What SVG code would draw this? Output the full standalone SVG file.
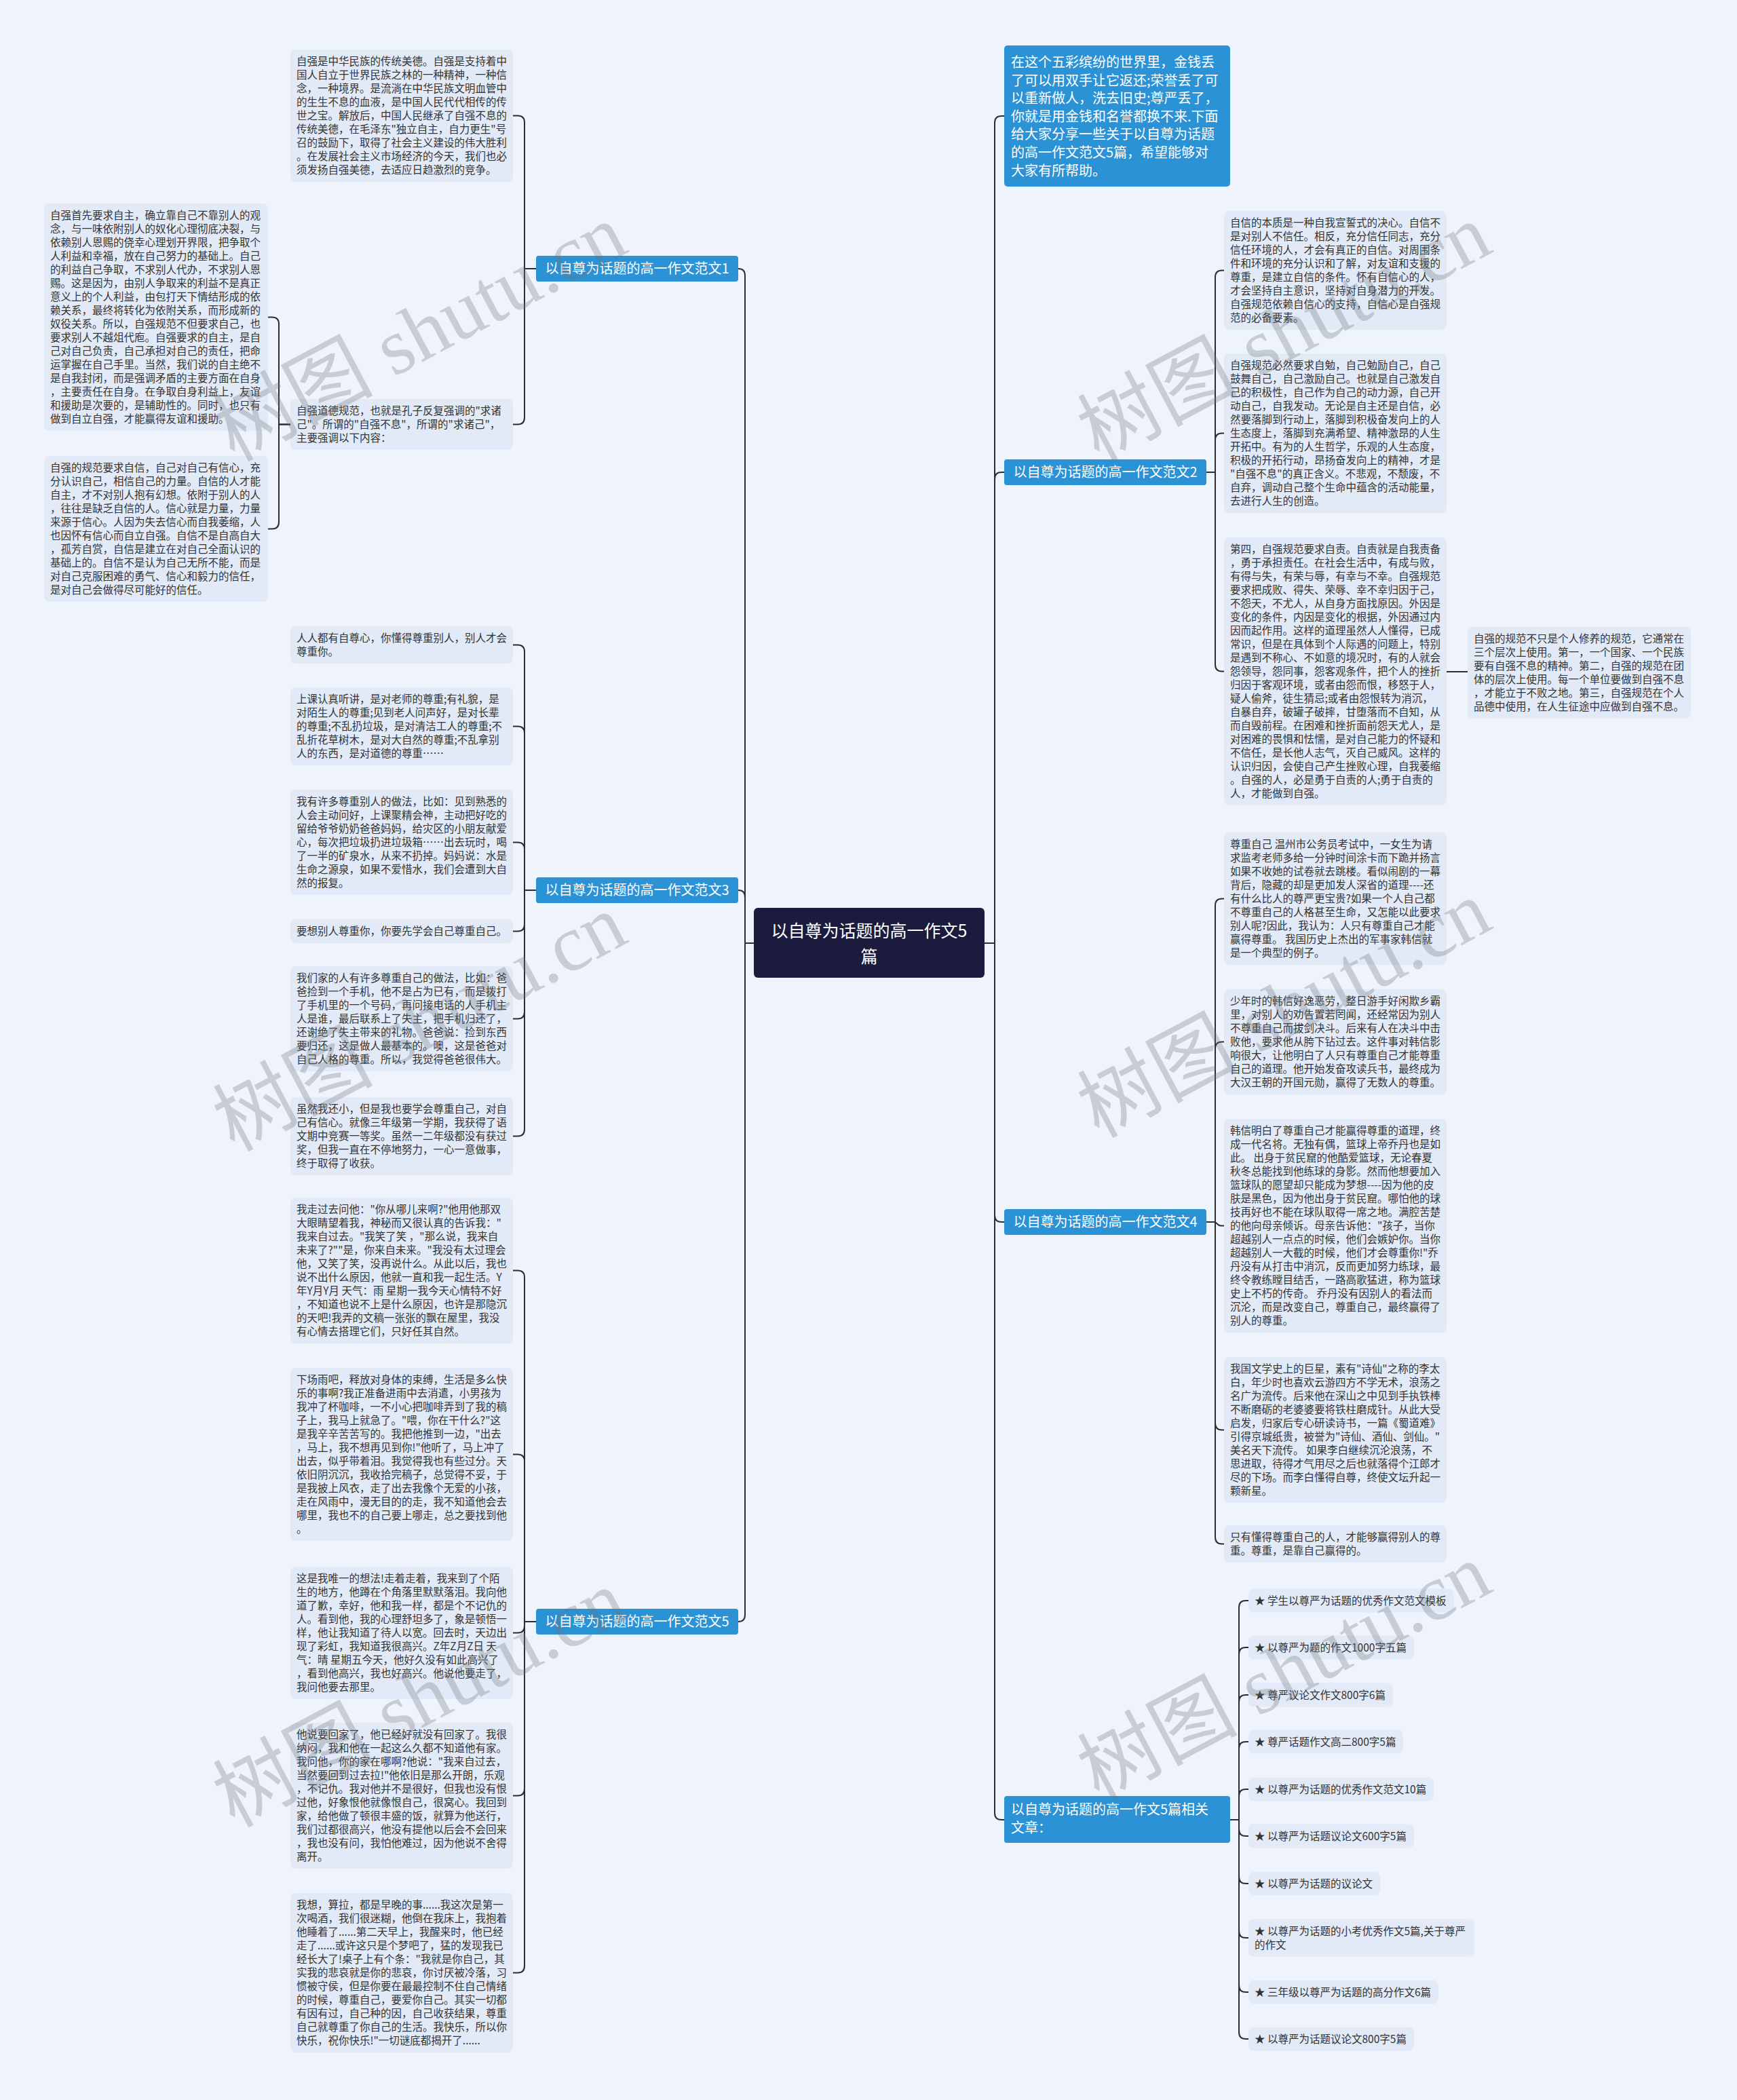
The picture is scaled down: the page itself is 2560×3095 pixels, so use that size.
<svg xmlns="http://www.w3.org/2000/svg" width="2560" height="3095" viewBox="0 0 2560 3095">
<style>
.leaf{fill:#e2eaf8}
.lt{font-family:"Noto Sans CJK SC","Noto Sans",sans-serif;font-size:15.5px;fill:#333}
.sec{fill:#2a92d5}
.st{font-family:"Noto Sans CJK SC","Noto Sans",sans-serif;font-size:20px;fill:#fff}
.ct{font-family:"Noto Sans CJK SC","Noto Sans",sans-serif;font-size:25px;fill:#fff}
.conn path{fill:none;stroke:#2d2d2d;stroke-width:2}
.wm{font-family:"Liberation Serif","Noto Sans CJK SC",serif;font-size:118px;fill:#6e747e;opacity:0.3}
</style>
<rect width="2560" height="3095" fill="#eef3fc"/>
<g id="connectors" class="conn">
<path d="M1111 1390 H1098 V406 Q1098 396 1088 396"/>
<path d="M1111 1390 H1098 V1322 Q1098 1312 1088 1312"/>
<path d="M1111 1390 H1098 V2380 Q1098 2390 1088 2390"/>
<path d="M1451 1390 H1466 V181 Q1466 171 1476 171 H1480"/>
<path d="M1451 1390 H1466 V706 Q1466 696 1476 696 H1480"/>
<path d="M1451 1390 H1466 V1791 Q1466 1801 1476 1801 H1480"/>
<path d="M1451 1390 H1466 V2672 Q1466 2682 1476 2682 H1480"/>
<path d="M790 396 H773 V180.5 Q773 170.5 763 170.5 H756"/>
<path d="M790 396 H773 V615.5 Q773 625.5 763 625.5 H756"/>
<path d="M428 625.5 H411 V477.5 Q411 467.5 401 467.5 H395"/>
<path d="M428 625.5 H411 V769.5 Q411 779.5 401 779.5 H395"/>
<path d="M790 1312 H773 V960.5 Q773 950.5 763 950.5 H756"/>
<path d="M790 1312 H773 V1080.5 Q773 1070.5 763 1070.5 H756"/>
<path d="M790 1312 H773 V1251.5 Q773 1241.5 763 1241.5 H756"/>
<path d="M790 1312 H773 V1362.5 Q773 1372.5 763 1372.5 H756"/>
<path d="M790 1312 H773 V1491.5 Q773 1501.5 763 1501.5 H756"/>
<path d="M790 1312 H773 V1664.5 Q773 1674.5 763 1674.5 H756"/>
<path d="M790 2390 H773 V1882.5 Q773 1872.5 763 1872.5 H756"/>
<path d="M790 2390 H773 V2153.5 Q773 2143.5 763 2143.5 H756"/>
<path d="M790 2390 H773 V2396.5 Q773 2406.5 763 2406.5 H756"/>
<path d="M790 2390 H773 V2636.5 Q773 2646.5 763 2646.5 H756"/>
<path d="M790 2390 H773 V2897.5 Q773 2907.5 763 2907.5 H756"/>
<path d="M1778 696 H1791 V408.5 Q1791 398.5 1801 398.5 H1804"/>
<path d="M1778 696 H1791 V648.5 Q1791 638.5 1801 638.5 H1804"/>
<path d="M1778 696 H1791 V979.5 Q1791 989.5 1801 989.5 H1804"/>
<path d="M2132 990 H2163"/>
<path d="M1778 1801 H1791 V1334.5 Q1791 1324.5 1801 1324.5 H1804"/>
<path d="M1778 1801 H1791 V1545.5 Q1791 1535.5 1801 1535.5 H1804"/>
<path d="M1778 1801 H1789 C1794 1801 1794 1806.5 1799 1806.5 H1804"/>
<path d="M1778 1801 H1791 V2097.5 Q1791 2107.5 1801 2107.5 H1804"/>
<path d="M1778 1801 H1791 V2265.5 Q1791 2275.5 1801 2275.5 H1804"/>
<path d="M1813 2682 H1826 V2369 Q1826 2359 1836 2359 H1840"/>
<path d="M1813 2682 H1826 V2438 Q1826 2428 1836 2428 H1840"/>
<path d="M1813 2682 H1826 V2508 Q1826 2498 1836 2498 H1840"/>
<path d="M1813 2682 H1826 V2577 Q1826 2567 1836 2567 H1840"/>
<path d="M1813 2682 H1826 V2647 Q1826 2637 1836 2637 H1840"/>
<path d="M1813 2682 H1826 V2696 Q1826 2706 1836 2706 H1840"/>
<path d="M1813 2682 H1826 V2766 Q1826 2776 1836 2776 H1840"/>
<path d="M1813 2682 H1826 V2846 Q1826 2856 1836 2856 H1840"/>
<path d="M1813 2682 H1826 V2926 Q1826 2936 1836 2936 H1840"/>
<path d="M1813 2682 H1826 V2995 Q1826 3005 1836 3005 H1840"/>
</g>
<g id="central">
<rect x="1111" y="1338" width="340" height="103" rx="6" fill="#1b1b3d"/>
<text class="ct" text-anchor="middle"><tspan x="1281" y="1381">以自尊为话题的高一作文5</tspan><tspan x="1281" y="1419">篇</tspan></text>
</g>
<g id="intro">
<rect x="1480" y="67" width="333" height="208" rx="5" class="sec"/>
<text class="st"><tspan x="1490" y="99">在这个五彩缤纷的世界里，金钱丢</tspan><tspan x="1490" dy="26.6">了可以用双手让它返还;荣誉丢了可</tspan><tspan x="1490" dy="26.6">以重新做人，洗去旧史;尊严丢了，</tspan><tspan x="1490" dy="26.6">你就是用金钱和名誉都换不来.下面</tspan><tspan x="1490" dy="26.6">给大家分享一些关于以自尊为话题</tspan><tspan x="1490" dy="26.6">的高一作文范文5篇，希望能够对</tspan><tspan x="1490" dy="26.6">大家有所帮助。</tspan></text>
</g>
<g id="sec1">
<rect x="790" y="377" width="298" height="38" rx="4" class="sec"/>
<text class="st" x="939" y="403" text-anchor="middle">以自尊为话题的高一作文范文1</text>
</g>
<g id="sec2">
<rect x="1480" y="677" width="298" height="38" rx="4" class="sec"/>
<text class="st" x="1629" y="703" text-anchor="middle">以自尊为话题的高一作文范文2</text>
</g>
<g id="sec3">
<rect x="790" y="1293" width="298" height="38" rx="4" class="sec"/>
<text class="st" x="939" y="1319" text-anchor="middle">以自尊为话题的高一作文范文3</text>
</g>
<g id="sec4">
<rect x="1480" y="1782" width="298" height="38" rx="4" class="sec"/>
<text class="st" x="1629" y="1808" text-anchor="middle">以自尊为话题的高一作文范文4</text>
</g>
<g id="sec5">
<rect x="790" y="2371" width="298" height="38" rx="4" class="sec"/>
<text class="st" x="939" y="2397" text-anchor="middle">以自尊为话题的高一作文范文5</text>
</g>
<g id="related">
<rect x="1480" y="2647" width="333" height="69" rx="4" class="sec"/>
<text class="st"><tspan x="1490" y="2674">以自尊为话题的高一作文5篇相关</tspan><tspan x="1490" dy="27">文章：</tspan></text>
</g>
<g id="a1">
<rect x="428" y="73" width="328" height="195" rx="8" class="leaf"/>
<text class="lt"><tspan x="437" y="96">自强是中华民族的传统美德。自强是支持着中</tspan><tspan x="437" dy="20">国人自立于世界民族之林的一种精神，一种信</tspan><tspan x="437" dy="20">念，一种境界。是流淌在中华民族文明血管中</tspan><tspan x="437" dy="20">的生生不息的血液，是中国人民代代相传的传</tspan><tspan x="437" dy="20">世之宝。解放后，中国人民继承了自强不息的</tspan><tspan x="437" dy="20">传统美德，在毛泽东"独立自主，自力更生"号</tspan><tspan x="437" dy="20">召的鼓励下，取得了社会主义建设的伟大胜利</tspan><tspan x="437" dy="20">。在发展社会主义市场经济的今天，我们也必</tspan><tspan x="437" dy="20">须发扬自强美德，去适应日趋激烈的竞争。</tspan></text>
</g>
<g id="a2">
<rect x="428" y="588" width="328" height="75" rx="8" class="leaf"/>
<text class="lt"><tspan x="437" y="611">自强道德规范，也就是孔子反复强调的"求诸</tspan><tspan x="437" dy="20">己"。所谓的"自强不息"，所谓的"求诸己"，</tspan><tspan x="437" dy="20">主要强调以下内容：</tspan></text>
</g>
<g id="b1">
<rect x="65" y="300" width="330" height="335" rx="8" class="leaf"/>
<text class="lt"><tspan x="74" y="323">自强首先要求自主，确立靠自己不靠别人的观</tspan><tspan x="74" dy="20">念，与一味依附别人的奴化心理彻底决裂，与</tspan><tspan x="74" dy="20">依赖别人恩赐的侥幸心理划开界限，把争取个</tspan><tspan x="74" dy="20">人利益和幸福，放在自己努力的基础上。自己</tspan><tspan x="74" dy="20">的利益自己争取，不求别人代办，不求别人恩</tspan><tspan x="74" dy="20">赐。这是因为，由别人争取来的利益不是真正</tspan><tspan x="74" dy="20">意义上的个人利益，由包打天下情结形成的依</tspan><tspan x="74" dy="20">赖关系，最终将转化为依附关系，而形成新的</tspan><tspan x="74" dy="20">奴役关系。所以，自强规范不但要求自己，也</tspan><tspan x="74" dy="20">要求别人不越俎代庖。自强要求的自主，是自</tspan><tspan x="74" dy="20">己对自己负责，自己承担对自己的责任，把命</tspan><tspan x="74" dy="20">运掌握在自己手里。当然，我们说的自主绝不</tspan><tspan x="74" dy="20">是自我封闭，而是强调矛盾的主要方面在自身</tspan><tspan x="74" dy="20">，主要责任在自身。在争取自身利益上，友谊</tspan><tspan x="74" dy="20">和援助是次要的，是辅助性的。同时，也只有</tspan><tspan x="74" dy="20">做到自立自强，才能赢得友谊和援助。</tspan></text>
</g>
<g id="b2">
<rect x="65" y="672" width="330" height="215" rx="8" class="leaf"/>
<text class="lt"><tspan x="74" y="695">自强的规范要求自信，自己对自己有信心，充</tspan><tspan x="74" dy="20">分认识自己，相信自己的力量。自信的人才能</tspan><tspan x="74" dy="20">自主，才不对别人抱有幻想。依附于别人的人</tspan><tspan x="74" dy="20">，往往是缺乏自信的人。信心就是力量，力量</tspan><tspan x="74" dy="20">来源于信心。人因为失去信心而自我萎缩，人</tspan><tspan x="74" dy="20">也因怀有信心而自立自强。自信不是自高自大</tspan><tspan x="74" dy="20">，孤芳自赏，自信是建立在对自己全面认识的</tspan><tspan x="74" dy="20">基础上的。自信不是认为自己无所不能，而是</tspan><tspan x="74" dy="20">对自己克服困难的勇气、信心和毅力的信任，</tspan><tspan x="74" dy="20">是对自己会做得尽可能好的信任。</tspan></text>
</g>
<g id="c1">
<rect x="428" y="923" width="328" height="55" rx="8" class="leaf"/>
<text class="lt"><tspan x="437" y="946">人人都有自尊心，你懂得尊重别人，别人才会</tspan><tspan x="437" dy="20">尊重你。</tspan></text>
</g>
<g id="c2">
<rect x="428" y="1013" width="328" height="115" rx="8" class="leaf"/>
<text class="lt"><tspan x="437" y="1036">上课认真听讲，是对老师的尊重;有礼貌，是</tspan><tspan x="437" dy="20">对陌生人的尊重;见到老人问声好，是对长辈</tspan><tspan x="437" dy="20">的尊重;不乱扔垃圾，是对清洁工人的尊重;不</tspan><tspan x="437" dy="20">乱折花草树木，是对大自然的尊重;不乱拿别</tspan><tspan x="437" dy="20">人的东西，是对道德的尊重……</tspan></text>
</g>
<g id="c3">
<rect x="428" y="1164" width="328" height="155" rx="8" class="leaf"/>
<text class="lt"><tspan x="437" y="1187">我有许多尊重别人的做法，比如：见到熟悉的</tspan><tspan x="437" dy="20">人会主动问好，上课聚精会神，主动把好吃的</tspan><tspan x="437" dy="20">留给爷爷奶奶爸爸妈妈，给灾区的小朋友献爱</tspan><tspan x="437" dy="20">心，每次把垃圾扔进垃圾箱……出去玩时，喝</tspan><tspan x="437" dy="20">了一半的矿泉水，从来不扔掉。妈妈说：水是</tspan><tspan x="437" dy="20">生命之源泉，如果不爱惜水，我们会遭到大自</tspan><tspan x="437" dy="20">然的报复。</tspan></text>
</g>
<g id="c4">
<rect x="428" y="1355" width="328" height="35" rx="8" class="leaf"/>
<text class="lt" x="437" y="1378">要想别人尊重你，你要先学会自己尊重自己。</text>
</g>
<g id="c5">
<rect x="428" y="1424" width="328" height="155" rx="8" class="leaf"/>
<text class="lt"><tspan x="437" y="1447">我们家的人有许多尊重自己的做法，比如：爸</tspan><tspan x="437" dy="20">爸捡到一个手机，他不是占为已有，而是拨打</tspan><tspan x="437" dy="20">了手机里的一个号码，再问接电话的人手机主</tspan><tspan x="437" dy="20">人是谁，最后联系上了失主，把手机归还了，</tspan><tspan x="437" dy="20">还谢绝了失主带来的礼物。爸爸说：捡到东西</tspan><tspan x="437" dy="20">要归还，这是做人最基本的。噢，这是爸爸对</tspan><tspan x="437" dy="20">自己人格的尊重。所以，我觉得爸爸很伟大。</tspan></text>
</g>
<g id="c6">
<rect x="428" y="1617" width="328" height="115" rx="8" class="leaf"/>
<text class="lt"><tspan x="437" y="1640">虽然我还小，但是我也要学会尊重自己，对自</tspan><tspan x="437" dy="20">己有信心。就像三年级第一学期，我获得了语</tspan><tspan x="437" dy="20">文期中竞赛一等奖。虽然一二年级都没有获过</tspan><tspan x="437" dy="20">奖，但我一直在不停地努力，一心一意做事，</tspan><tspan x="437" dy="20">终于取得了收获。</tspan></text>
</g>
<g id="d1">
<rect x="428" y="1765" width="328" height="215" rx="8" class="leaf"/>
<text class="lt"><tspan x="437" y="1788">我走过去问他："你从哪儿来啊?"他用他那双</tspan><tspan x="437" dy="20">大眼睛望着我，神秘而又很认真的告诉我："</tspan><tspan x="437" dy="20">我来自过去。"我笑了笑 ，"那么说，我来自</tspan><tspan x="437" dy="20">未来了?""是，你来自未来。"我没有太过理会</tspan><tspan x="437" dy="20">他，又笑了笑，没再说什么。从此以后，我也</tspan><tspan x="437" dy="20">说不出什么原因，他就一直和我一起生活。Y</tspan><tspan x="437" dy="20">年Y月Y月 天气：雨 星期一我今天心情特不好</tspan><tspan x="437" dy="20">，不知道也说不上是什么原因，也许是那隐沉</tspan><tspan x="437" dy="20">的天吧!我弄的文稿一张张的飘在屋里，我没</tspan><tspan x="437" dy="20">有心情去搭理它们，只好任其自然。</tspan></text>
</g>
<g id="d2">
<rect x="428" y="2016" width="328" height="255" rx="8" class="leaf"/>
<text class="lt"><tspan x="437" y="2039">下场雨吧，释放对身体的束缚，生活是多么快</tspan><tspan x="437" dy="20">乐的事啊?我正准备进雨中去消遣，小男孩为</tspan><tspan x="437" dy="20">我冲了杯咖啡，一不小心把咖啡弄到了我的稿</tspan><tspan x="437" dy="20">子上，我马上就急了。"喂，你在干什么?"这</tspan><tspan x="437" dy="20">是我辛辛苦苦写的。我把他推到一边，"出去</tspan><tspan x="437" dy="20">，马上，我不想再见到你!"他听了，马上冲了</tspan><tspan x="437" dy="20">出去，似乎带着泪。我觉得我也有些过分。天</tspan><tspan x="437" dy="20">依旧阴沉沉，我收拾完稿子，总觉得不妥，于</tspan><tspan x="437" dy="20">是我披上风衣，走了出去我像个无爱的小孩，</tspan><tspan x="437" dy="20">走在风雨中，漫无目的的走，我不知道他会去</tspan><tspan x="437" dy="20">哪里，我也不的自己要上哪走，总之要找到他</tspan><tspan x="437" dy="20">。</tspan></text>
</g>
<g id="d3">
<rect x="428" y="2309" width="328" height="195" rx="8" class="leaf"/>
<text class="lt"><tspan x="437" y="2332">这是我唯一的想法!走着走着，我来到了个陌</tspan><tspan x="437" dy="20">生的地方，他蹲在个角落里默默落泪。我向他</tspan><tspan x="437" dy="20">道了歉，幸好，他和我一样，都是个不记仇的</tspan><tspan x="437" dy="20">人。看到他，我的心理舒坦多了，象是顿悟一</tspan><tspan x="437" dy="20">样，他让我知道了待人以宽。回去时，天边出</tspan><tspan x="437" dy="20">现了彩虹，我知道我很高兴。Z年Z月Z日 天</tspan><tspan x="437" dy="20">气：晴 星期五今天，他好久没有如此高兴了</tspan><tspan x="437" dy="20">，看到他高兴，我也好高兴。他说他要走了，</tspan><tspan x="437" dy="20">我问他要去那里。</tspan></text>
</g>
<g id="d4">
<rect x="428" y="2539" width="328" height="215" rx="8" class="leaf"/>
<text class="lt"><tspan x="437" y="2562">他说要回家了，他已经好就没有回家了。我很</tspan><tspan x="437" dy="20">纳闷，我和他在一起这么久都不知道他有家。</tspan><tspan x="437" dy="20">我问他，你的家在哪啊?他说："我来自过去，</tspan><tspan x="437" dy="20">当然要回到过去拉!"他依旧是那么开朗，乐观</tspan><tspan x="437" dy="20">，不记仇。我对他并不是很好，但我也没有恨</tspan><tspan x="437" dy="20">过他，好象恨他就像恨自己，很窝心。我回到</tspan><tspan x="437" dy="20">家，给他做了顿很丰盛的饭，就算为他送行，</tspan><tspan x="437" dy="20">我们过都很高兴，他没有提他以后会不会回来</tspan><tspan x="437" dy="20">，我也没有问，我怕他难过，因为他说不舍得</tspan><tspan x="437" dy="20">离开。</tspan></text>
</g>
<g id="d5">
<rect x="428" y="2790" width="328" height="235" rx="8" class="leaf"/>
<text class="lt"><tspan x="437" y="2813">我想，算拉，都是早晚的事......我这次是第一</tspan><tspan x="437" dy="20">次喝酒，我们很迷糊，他倒在我床上，我抱着</tspan><tspan x="437" dy="20">他睡着了......第二天早上，我醒来时，他已经</tspan><tspan x="437" dy="20">走了......或许这只是个梦吧了，猛的发现我已</tspan><tspan x="437" dy="20">经长大了!桌子上有个条："我就是你自己，其</tspan><tspan x="437" dy="20">实我的悲哀就是你的悲哀，你讨厌被冷落，习</tspan><tspan x="437" dy="20">惯被守侯，但是你要在最最控制不住自己情绪</tspan><tspan x="437" dy="20">的时候，尊重自己，要爱你自己。其实一切都</tspan><tspan x="437" dy="20">有因有过，自己种的因，自己收获结果，尊重</tspan><tspan x="437" dy="20">自己就尊重了你自己的生活。我快乐，所以你</tspan><tspan x="437" dy="20">快乐，祝你快乐!"一切谜底都揭开了......</tspan></text>
</g>
<g id="e1">
<rect x="1804" y="311" width="328" height="175" rx="8" class="leaf"/>
<text class="lt"><tspan x="1813" y="334">自信的本质是一种自我宣誓式的决心。自信不</tspan><tspan x="1813" dy="20">是对别人不信任。相反，充分信任同志，充分</tspan><tspan x="1813" dy="20">信任环境的人，才会有真正的自信。对周围条</tspan><tspan x="1813" dy="20">件和环境的充分认识和了解，对友谊和支援的</tspan><tspan x="1813" dy="20">尊重，是建立自信的条件。怀有自信心的人，</tspan><tspan x="1813" dy="20">才会坚持自主意识，坚持对自身潜力的开发。</tspan><tspan x="1813" dy="20">自强规范依赖自信心的支持，自信心是自强规</tspan><tspan x="1813" dy="20">范的必备要素。</tspan></text>
</g>
<g id="e2">
<rect x="1804" y="521" width="328" height="235" rx="8" class="leaf"/>
<text class="lt"><tspan x="1813" y="544">自强规范必然要求自勉，自己勉励自己，自己</tspan><tspan x="1813" dy="20">鼓舞自己，自己激励自己。也就是自己激发自</tspan><tspan x="1813" dy="20">己的积极性，自己作为自己的动力源，自己开</tspan><tspan x="1813" dy="20">动自己，自我发动。无论是自主还是自信，必</tspan><tspan x="1813" dy="20">然要落脚到行动上，落脚到积极奋发向上的人</tspan><tspan x="1813" dy="20">生态度上，落脚到充满希望、精神激昂的人生</tspan><tspan x="1813" dy="20">开拓中。有为的人生哲学，乐观的人生态度，</tspan><tspan x="1813" dy="20">积极的开拓行动，昂扬奋发向上的精神，才是</tspan><tspan x="1813" dy="20">"自强不息"的真正含义。不悲观，不颓废，不</tspan><tspan x="1813" dy="20">自弃，调动自己整个生命中蕴含的活动能量，</tspan><tspan x="1813" dy="20">去进行人生的创造。</tspan></text>
</g>
<g id="e3">
<rect x="1804" y="792" width="328" height="395" rx="8" class="leaf"/>
<text class="lt"><tspan x="1813" y="815">第四，自强规范要求自责。自责就是自我责备</tspan><tspan x="1813" dy="20">，勇于承担责任。在社会生活中，有成与败，</tspan><tspan x="1813" dy="20">有得与失，有荣与辱，有幸与不幸。自强规范</tspan><tspan x="1813" dy="20">要求把成败、得失、荣辱、幸不幸归因于己，</tspan><tspan x="1813" dy="20">不怨天，不尤人，从自身方面找原因。外因是</tspan><tspan x="1813" dy="20">变化的条件，内因是变化的根据，外因通过内</tspan><tspan x="1813" dy="20">因而起作用。这样的道理虽然人人懂得，已成</tspan><tspan x="1813" dy="20">常识，但是在具体到个人际遇的问题上，特别</tspan><tspan x="1813" dy="20">是遇到不称心、不如意的境况时，有的人就会</tspan><tspan x="1813" dy="20">怨领导，怨同事，怨客观条件，把个人的挫折</tspan><tspan x="1813" dy="20">归因于客观环境，或者由怨而恨，移怒于人，</tspan><tspan x="1813" dy="20">疑人偷斧，徒生猜忌;或者由怨恨转为消沉，</tspan><tspan x="1813" dy="20">自暴自弃，破罐子破摔，甘堕落而不自知，从</tspan><tspan x="1813" dy="20">而自毁前程。在困难和挫折面前怨天尤人，是</tspan><tspan x="1813" dy="20">对困难的畏惧和怯懦，是对自己能力的怀疑和</tspan><tspan x="1813" dy="20">不信任，是长他人志气，灭自己威风。这样的</tspan><tspan x="1813" dy="20">认识归因，会使自己产生挫败心理，自我萎缩</tspan><tspan x="1813" dy="20">。自强的人，必是勇于自责的人;勇于自责的</tspan><tspan x="1813" dy="20">人，才能做到自强。</tspan></text>
</g>
<g id="f1">
<rect x="2163" y="924" width="329" height="135" rx="8" class="leaf"/>
<text class="lt"><tspan x="2172" y="947">自强的规范不只是个人修养的规范，它通常在</tspan><tspan x="2172" dy="20">三个层次上使用。第一，一个国家、一个民族</tspan><tspan x="2172" dy="20">要有自强不息的精神。第二，自强的规范在团</tspan><tspan x="2172" dy="20">体的层次上使用。每一个单位要做到自强不息</tspan><tspan x="2172" dy="20">，才能立于不败之地。第三，自强规范在个人</tspan><tspan x="2172" dy="20">品德中使用，在人生征途中应做到自强不息。</tspan></text>
</g>
<g id="g1">
<rect x="1804" y="1227" width="328" height="195" rx="8" class="leaf"/>
<text class="lt"><tspan x="1813" y="1250">尊重自己 温州市公务员考试中，一女生为请</tspan><tspan x="1813" dy="20">求监考老师多给一分钟时间涂卡而下跪并扬言</tspan><tspan x="1813" dy="20">如果不收她的试卷就去跳楼。看似闹剧的一幕</tspan><tspan x="1813" dy="20">背后，隐藏的却是更加发人深省的道理----还</tspan><tspan x="1813" dy="20">有什么比人的尊严更宝贵?如果一个人自己都</tspan><tspan x="1813" dy="20">不尊重自己的人格甚至生命，又怎能以此要求</tspan><tspan x="1813" dy="20">别人呢?因此，我认为：人只有尊重自己才能</tspan><tspan x="1813" dy="20">赢得尊重。 我国历史上杰出的军事家韩信就</tspan><tspan x="1813" dy="20">是一个典型的例子。</tspan></text>
</g>
<g id="g2">
<rect x="1804" y="1458" width="328" height="155" rx="8" class="leaf"/>
<text class="lt"><tspan x="1813" y="1481">少年时的韩信好逸恶劳，整日游手好闲欺乡霸</tspan><tspan x="1813" dy="20">里，对别人的劝告置若罔闻，还经常因为别人</tspan><tspan x="1813" dy="20">不尊重自己而拔剑决斗。后来有人在决斗中击</tspan><tspan x="1813" dy="20">败他，要求他从胯下钻过去。这件事对韩信影</tspan><tspan x="1813" dy="20">响很大，让他明白了人只有尊重自己才能尊重</tspan><tspan x="1813" dy="20">自己的道理。他开始发奋攻读兵书，最终成为</tspan><tspan x="1813" dy="20">大汉王朝的开国元勋，赢得了无数人的尊重。</tspan></text>
</g>
<g id="g3">
<rect x="1804" y="1649" width="328" height="315" rx="8" class="leaf"/>
<text class="lt"><tspan x="1813" y="1672">韩信明白了尊重自己才能赢得尊重的道理，终</tspan><tspan x="1813" dy="20">成一代名将。无独有偶，篮球上帝乔丹也是如</tspan><tspan x="1813" dy="20">此。 出身于贫民窟的他酷爱篮球，无论春夏</tspan><tspan x="1813" dy="20">秋冬总能找到他练球的身影。然而他想要加入</tspan><tspan x="1813" dy="20">篮球队的愿望却只能成为梦想----因为他的皮</tspan><tspan x="1813" dy="20">肤是黑色，因为他出身于贫民窟。哪怕他的球</tspan><tspan x="1813" dy="20">技再好也不能在球队取得一席之地。满腔苦楚</tspan><tspan x="1813" dy="20">的他向母亲倾诉。母亲告诉他："孩子，当你</tspan><tspan x="1813" dy="20">超越别人一点点的时候，他们会嫉妒你。当你</tspan><tspan x="1813" dy="20">超越别人一大截的时候，他们才会尊重你!"乔</tspan><tspan x="1813" dy="20">丹没有从打击中消沉，反而更加努力练球，最</tspan><tspan x="1813" dy="20">终令教练瞠目结舌，一路高歌猛进，称为篮球</tspan><tspan x="1813" dy="20">史上不朽的传奇。 乔丹没有因别人的看法而</tspan><tspan x="1813" dy="20">沉沦，而是改变自己，尊重自己，最终赢得了</tspan><tspan x="1813" dy="20">别人的尊重。</tspan></text>
</g>
<g id="g4">
<rect x="1804" y="2000" width="328" height="215" rx="8" class="leaf"/>
<text class="lt"><tspan x="1813" y="2023">我国文学史上的巨星，素有"诗仙"之称的李太</tspan><tspan x="1813" dy="20">白，年少时也喜欢云游四方不学无术，浪荡之</tspan><tspan x="1813" dy="20">名广为流传。后来他在深山之中见到手执铁棒</tspan><tspan x="1813" dy="20">不断磨砺的老婆婆要将铁柱磨成针。从此大受</tspan><tspan x="1813" dy="20">启发，归家后专心研读诗书，一篇《蜀道难》</tspan><tspan x="1813" dy="20">引得京城纸贵，被誉为"诗仙、酒仙、剑仙。"</tspan><tspan x="1813" dy="20">美名天下流传。 如果李白继续沉沦浪荡，不</tspan><tspan x="1813" dy="20">思进取，待得才气用尽之后也就落得个江郎才</tspan><tspan x="1813" dy="20">尽的下场。而李白懂得自尊，终使文坛升起一</tspan><tspan x="1813" dy="20">颗新星。</tspan></text>
</g>
<g id="g5">
<rect x="1804" y="2248" width="328" height="55" rx="8" class="leaf"/>
<text class="lt"><tspan x="1813" y="2271">只有懂得尊重自己的人，才能够赢得别人的尊</tspan><tspan x="1813" dy="20">重。尊重，是靠自己赢得的。</tspan></text>
</g>
<g id="r1"><rect x="1840" y="2341.5" width="303" height="35" rx="8" class="leaf"/><text class="lt" x="1849" y="2365">★ 学生以尊严为话题的优秀作文范文模板</text></g>
<g id="r2"><rect x="1840" y="2410.5" width="244" height="35" rx="8" class="leaf"/><text class="lt" x="1849" y="2434">★ 以尊严为题的作文1000字五篇</text></g>
<g id="r3"><rect x="1840" y="2480.5" width="213" height="35" rx="8" class="leaf"/><text class="lt" x="1849" y="2504">★ 尊严议论文作文800字6篇</text></g>
<g id="r4"><rect x="1840" y="2549.5" width="228" height="35" rx="8" class="leaf"/><text class="lt" x="1849" y="2573">★ 尊严话题作文高二800字5篇</text></g>
<g id="r5"><rect x="1840" y="2619.5" width="273" height="35" rx="8" class="leaf"/><text class="lt" x="1849" y="2643">★ 以尊严为话题的优秀作文范文10篇</text></g>
<g id="r6"><rect x="1840" y="2688.5" width="244" height="35" rx="8" class="leaf"/><text class="lt" x="1849" y="2712">★ 以尊严为话题议论文600字5篇</text></g>
<g id="r7"><rect x="1840" y="2758.5" width="194" height="35" rx="8" class="leaf"/><text class="lt" x="1849" y="2782">★ 以尊严为话题的议论文</text></g>
<g id="r8"><rect x="1840" y="2828.5" width="333" height="55" rx="8" class="leaf"/><text class="lt"><tspan x="1849" y="2852">★ 以尊严为话题的小考优秀作文5篇,关于尊严</tspan><tspan x="1849" dy="20">的作文</tspan></text></g>
<g id="r9"><rect x="1840" y="2918.5" width="280" height="35" rx="8" class="leaf"/><text class="lt" x="1849" y="2942">★ 三年级以尊严为话题的高分作文6篇</text></g>
<g id="r10"><rect x="1840" y="2987.5" width="244" height="35" rx="8" class="leaf"/><text class="lt" x="1849" y="3011">★ 以尊严为话题议论文800字5篇</text></g>
<g id="watermarks">
<text class="wm" transform="translate(345 681) rotate(-28)">树图 shutu.cn</text>
<text class="wm" transform="translate(1619 681) rotate(-28)">树图 shutu.cn</text>
<text class="wm" transform="translate(345 1698) rotate(-28)">树图 shutu.cn</text>
<text class="wm" transform="translate(1619 1678) rotate(-28)">树图 shutu.cn</text>
<text class="wm" transform="translate(345 2694) rotate(-28)">树图 shutu.cn</text>
<text class="wm" transform="translate(1619 2655) rotate(-28)">树图 shutu.cn</text>
</g>
</svg>
